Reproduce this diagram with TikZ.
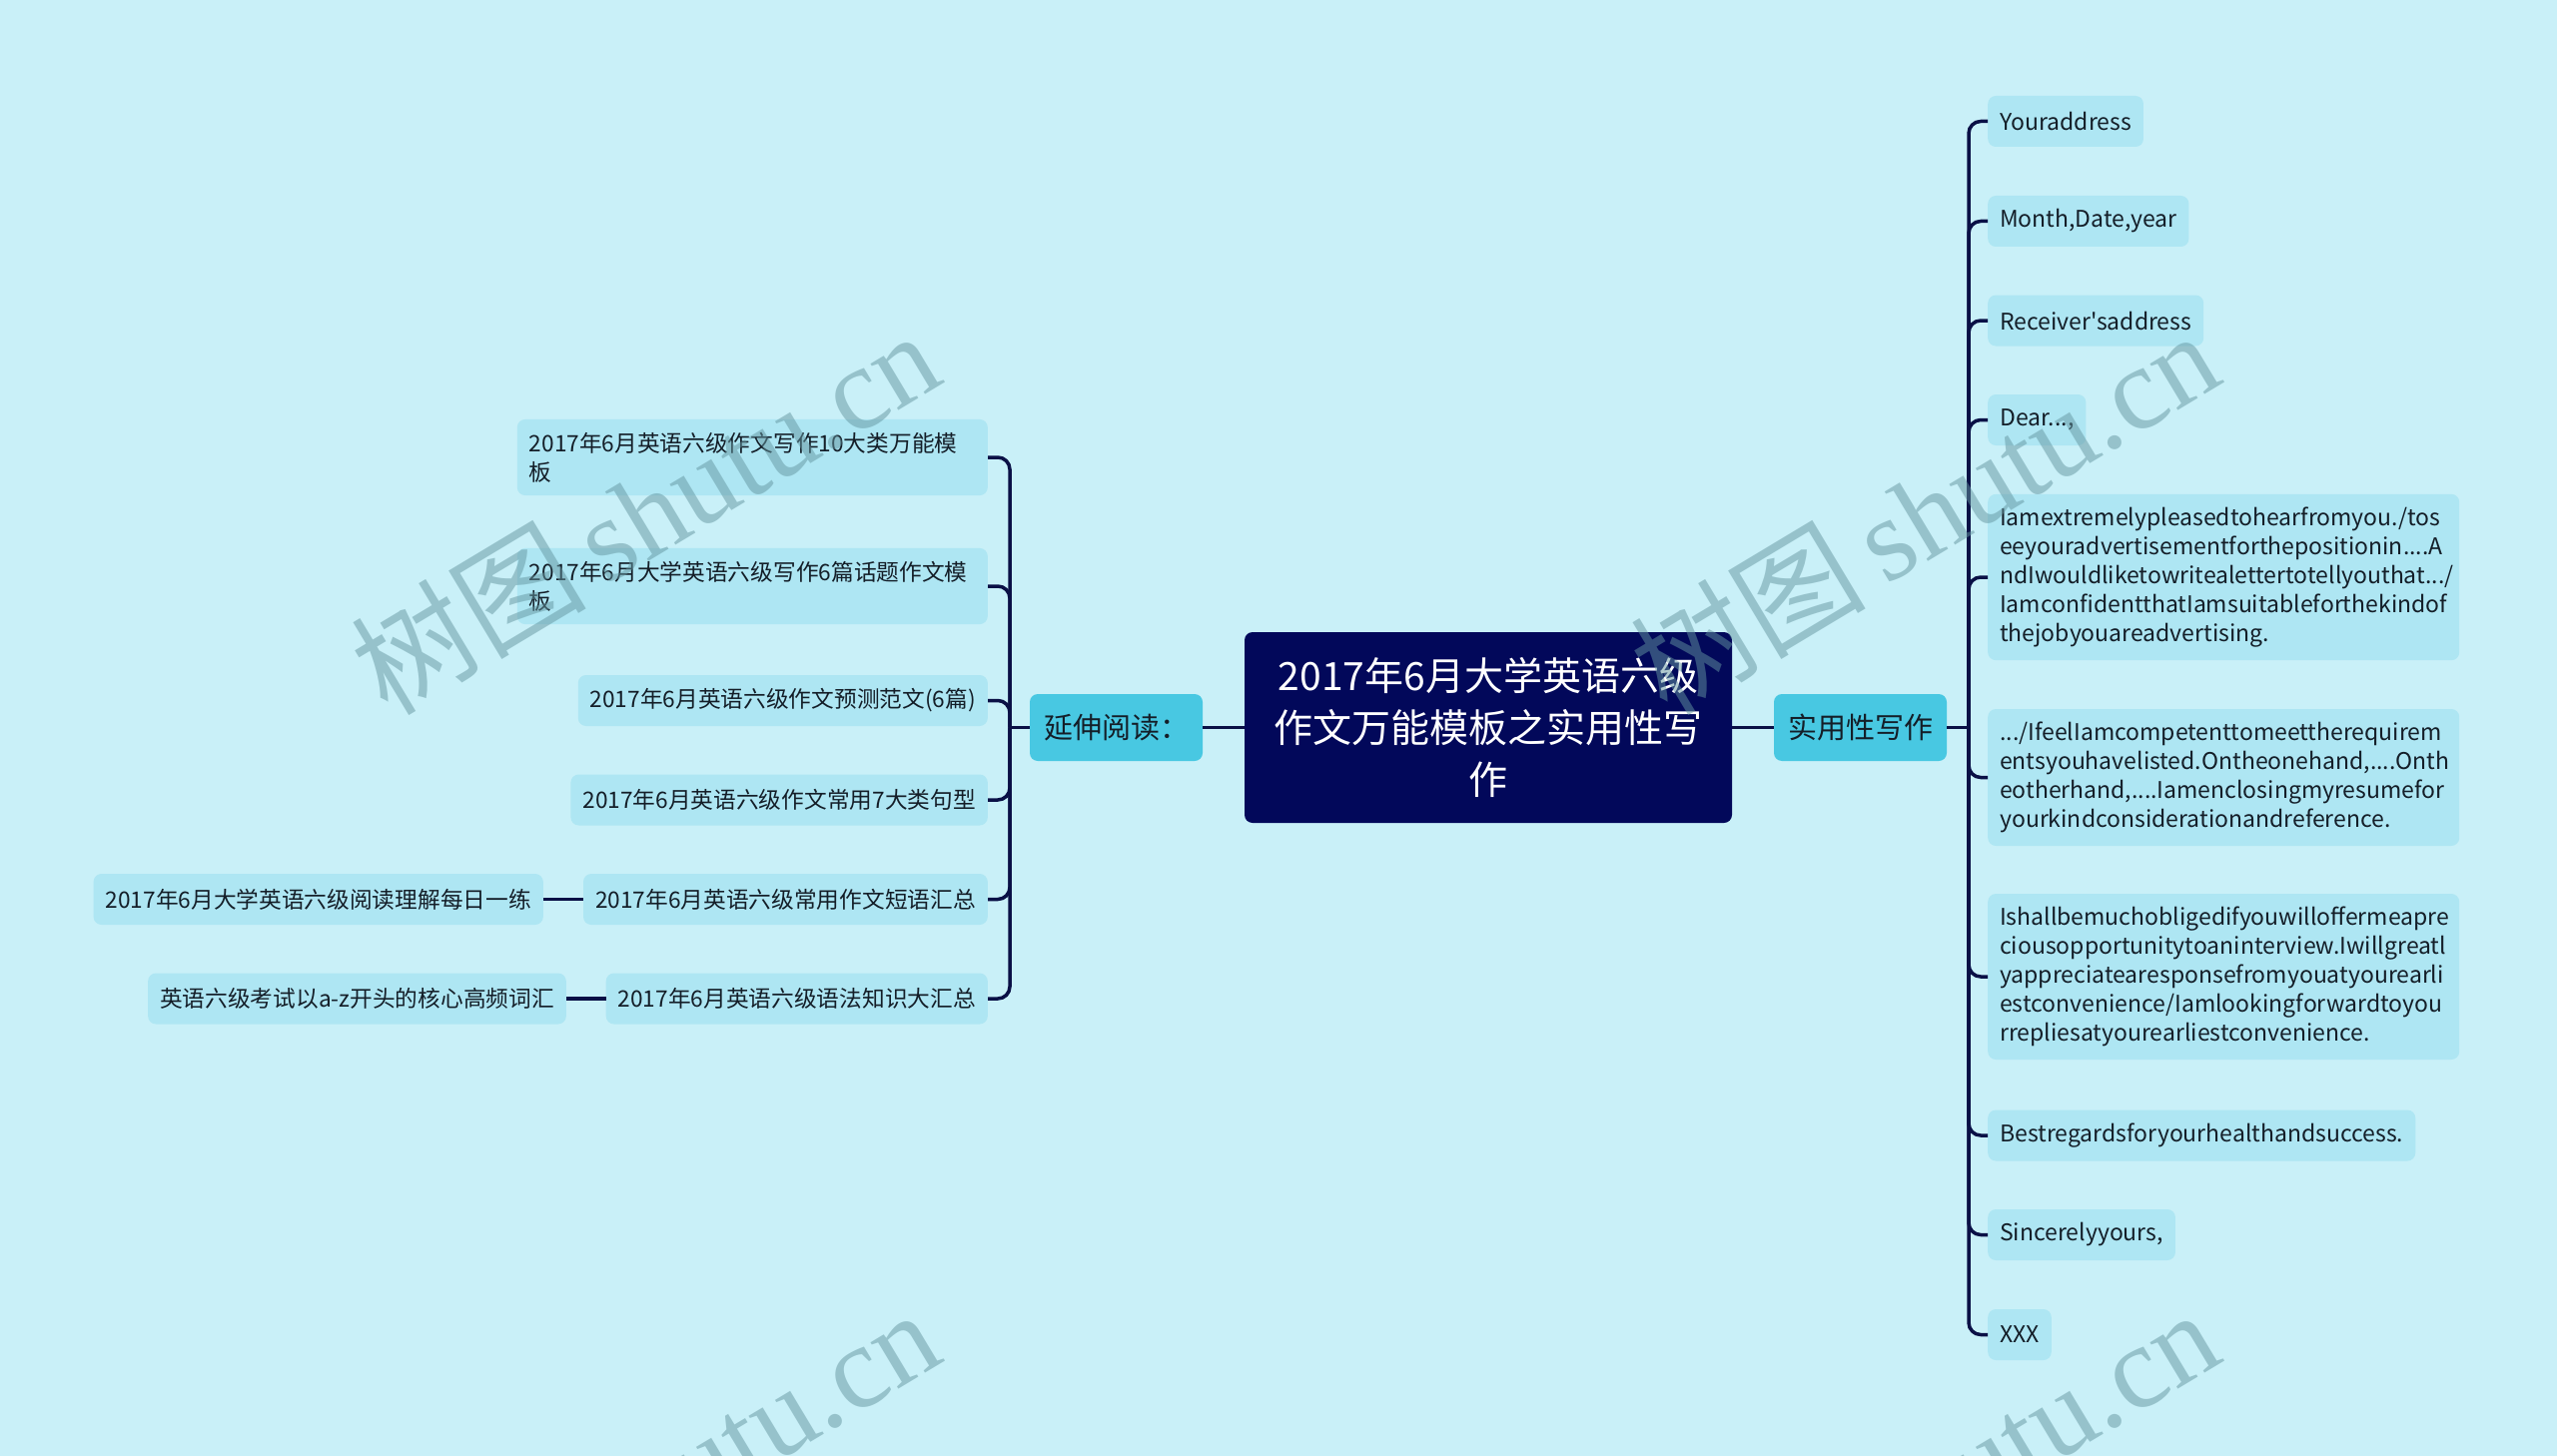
\documentclass[tikz,border=0pt]{standalone}
\usepackage{fontspec}
\setmainfont{Noto Sans CJK SC}
\newfontfamily\enfont{Noto Sans CJK SC}
\newfontfamily\wmserif{Liberation Serif}
\definecolor{bgc}{RGB}{201,240,248}
\definecolor{itemc}{RGB}{174,230,243}
\definecolor{branchc}{RGB}{72,200,226}
\definecolor{rootc}{RGB}{2,8,90}
\definecolor{linec}{RGB}{10,16,70}
\definecolor{textc}{RGB}{20,30,40}
\definecolor{wmc}{RGB}{100,150,160}
\tikzset{
  itembox/.style={rounded corners=8, fill=itemc, text=textc, inner xsep=12, inner ysep=13,
    minimum height=51, align=left, font=\fontsize{22.7}{29}\selectfont},
  enbox/.style={itembox, font=\enfont\fontsize{23}{29}\selectfont},
  branchbox/.style={rounded corners=8, fill=branchc, text=textc, minimum width=173,
    minimum height=67, inner sep=0, font=\fontsize{29}{34}\selectfont},
  rootbox/.style={rounded corners=8, fill=rootc, text=white, minimum width=488,
    minimum height=191, inner sep=0, align=center, font=\fontsize{39}{52}\selectfont},
  conn/.style={draw=linec, line width=3.5, rounded corners=12},
  wmark/.style={text=wmc, opacity=0.5, rotate=31, inner sep=0, font=\fontsize{118}{118}\selectfont}
}
\begin{document}
\begin{tikzpicture}[x=1pt, y=-1pt]
\useasboundingbox (0,0) rectangle (2560,1458);
\fill[bgc] (0,0) rectangle (2560,1458);

% root and branches
\node[rootbox] (root) at (1490,728.5) {2017年6月大学英语六级\\作文万能模板之实用性写\\作};
\node[branchbox] (rb) at (1862.5,728.5) {实用性写作};
\node[branchbox] (lb) at (1117.5,728.5) {延伸阅读：};
\coordinate (rj) at (1971,728.5);
\coordinate (lj) at (1011,728.5);

% right children
\node[enbox, anchor=west] (r1) at (1990,121.5) {Youraddress};
\node[enbox, anchor=west] (r2) at (1990,221.5) {Month,Date,year};
\node[enbox, anchor=west] (r3) at (1990,321) {Receiver'saddress};
\node[enbox, anchor=west] (r4) at (1990,420.5) {Dear...,};
\node[enbox, anchor=west, text width=448] (r5) at (1990,578) {Iamextremelypleasedtohearfromyou./tos\\eeyouradvertisementforthepositionin....A\\ndIwouldliketowritealettertotellyouthat.../\\IamconfidentthatIamsuitableforthekindof\\thejobyouareadvertising.};
\node[enbox, anchor=west, text width=448] (r6) at (1990,778.5) {.../IfeelIamcompetenttomeettherequirem\\entsyouhavelisted.Ontheonehand,....Onth\\eotherhand,....Iamenclosingmyresumefor\\yourkindconsiderationandreference.};
\node[enbox, anchor=west, text width=448] (r7) at (1990,978) {Ishallbemuchobligedifyouwilloffermeapre\\ciousopportunitytoaninterview.Iwillgreatl\\yappreciatearesponsefromyouatyourearli\\estconvenience/Iamlookingforwardtoyou\\rrepliesatyourearliestconvenience.};
\node[enbox, anchor=west] (r8) at (1990,1137) {Bestregardsforyourhealthandsuccess.};
\node[enbox, anchor=west] (r9) at (1990,1236.5) {Sincerelyyours,};
\node[enbox, anchor=west] (r10) at (1990,1336.5) {XXX};

% left children
\node[itembox, anchor=east, text width=447] (l1) at (989,458) {2017年6月英语六级作文写作10大类万能模\\板};
\node[itembox, anchor=east, text width=447] (l2) at (989,587) {2017年6月大学英语六级写作6篇话题作文模\\板};
\node[itembox, anchor=east] (l3) at (989,701.5) {2017年6月英语六级作文预测范文(6篇)};
\node[itembox, anchor=east] (l4) at (989,801) {2017年6月英语六级作文常用7大类句型};
\node[itembox, anchor=east] (l5) at (989,900.5) {2017年6月英语六级常用作文短语汇总};
\node[itembox, anchor=east] (l6) at (989,1000) {2017年6月英语六级语法知识大汇总};
\node[itembox, anchor=east] (s1) at (544,900.5) {2017年6月大学英语六级阅读理解每日一练};
\node[itembox, anchor=east] (s2) at (567,1000) {英语六级考试以a-z开头的核心高频词汇};

% connectors
\draw[conn] (root.east) -- (rb.west);
\draw[conn] (lb.east) -- (root.west);
\draw[conn] (rb.east) -- (rj);
\draw[conn] (lb.west) -- (lj);
\foreach \n in {r1,r2,r3,r4,r5,r6,r7,r8,r9,r10} {\draw[conn] (rj) |- (\n.west);}
\foreach \n in {l1,l2,l3,l4,l5,l6} {\draw[conn] (lj) |- (\n.east);}
\draw[conn] (l5.west) -- (s1.east);
\draw[conn] (l6.west) -- (s2.east);

% watermarks
\node[wmark] (wm1) at (645,512) {树图\,{\wmserif shutu.cn}};
\node[wmark] (wm2) at (1926,512) {树图\,{\wmserif shutu.cn}};
\node[wmark] (wm3) at (645,1492) {树图\,{\wmserif shutu.cn}};
\node[wmark] (wm4) at (1926,1492) {树图\,{\wmserif shutu.cn}};
\end{tikzpicture}
\end{document}
